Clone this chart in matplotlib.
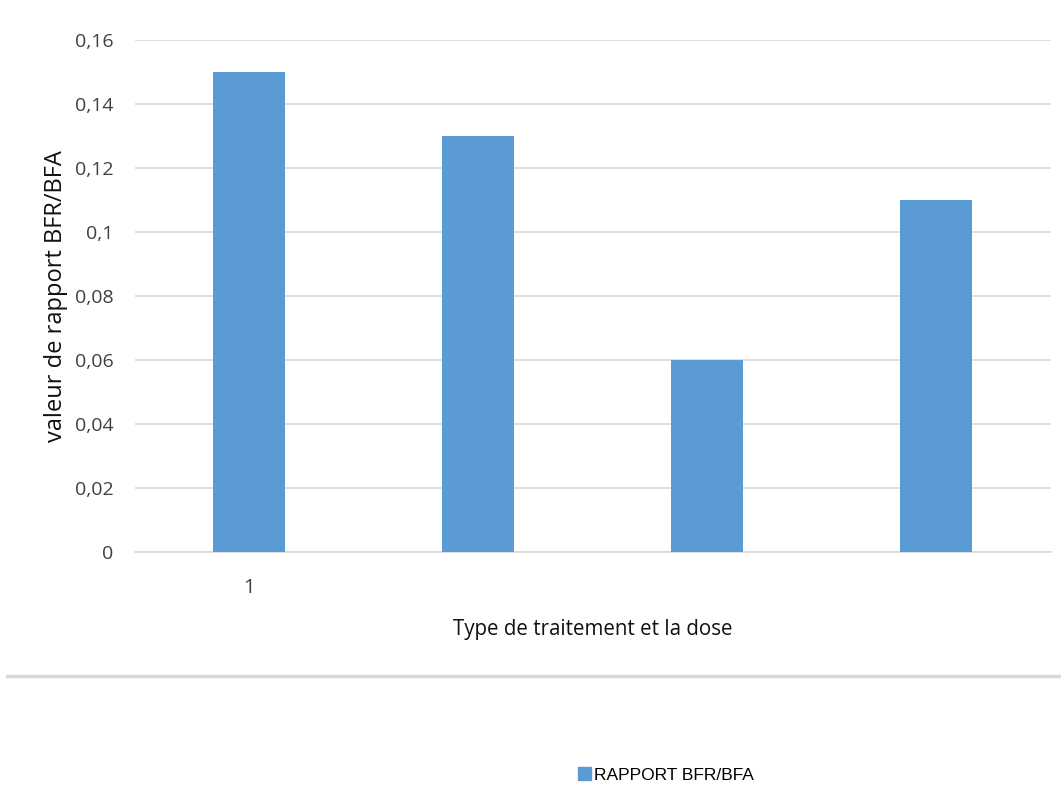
import matplotlib.pyplot as plt
import numpy as np
from matplotlib.lines import Line2D
from matplotlib.patches import Patch

# rapport BFR/BFA par traitement
traitements = ["1", "", "", ""]
rapport = [0.15, 0.13, 0.06, 0.11]
yticks = [0, 0.02, 0.04, 0.06, 0.08, 0.10, 0.12, 0.14, 0.16]
ytick_labels = ["0", "0,02", "0,04", "0,06", "0,08", "0,1", "0,12", "0,14", "0,16"]

bleu = "#5b9bd5"
grille = "#d9d9d9"

plt.rcParams['font.family'] = ['Open Sans', 'DejaVu Sans']

fig = plt.figure(figsize=(10.61, 7.85), dpi=100)
ax = fig.add_axes([134.5 / 1061, 1 - 552 / 785, 916 / 1061, 512 / 785])

x = np.arange(len(rapport))
ax.bar(x, rapport, width=0.315, color=bleu, zorder=3)

ax.set_xlim(-0.5, len(rapport) - 0.5)
ax.set_ylim(0, 0.16)
ax.set_yticks(yticks)
ax.set_yticklabels(ytick_labels, fontsize=14, color="#404040")
ax.set_xticks(x)
ax.set_xticklabels(traitements, fontsize=14.5, color="#404040")
ax.tick_params(axis='both', length=0)
ax.tick_params(axis='y', pad=15)
ax.tick_params(axis='x', pad=19)

ax.grid(True, axis='y', color=grille, linewidth=1.2, zorder=0)
for s in ['top', 'right', 'left']:
  ax.spines[s].set_visible(False)
ax.spines['bottom'].set_color(grille)
ax.spines['bottom'].set_linewidth(1.2)

ax.set_ylabel("valeur de rapport BFR/BFA", fontsize=17, labelpad=5, color="#111111")
ax.set_xlabel("Type de traitement et la dose", fontsize=14.8, labelpad=15, color="#111111")

# trait de séparation sous le graphique
fig.add_artist(Line2D([7 / 1061, 1], [1 - 676 / 785] * 2, color="#d9d9d9", linewidth=2.5))

handle = Patch(color=bleu, label="RAPPORT BFR/BFA")
fig.legend(handles=[handle], loc='center', bbox_to_anchor=(666 / 1061, 1 - 775 / 785),
           frameon=False, handlelength=0.75, handleheight=0.75,
           handletextpad=0.15, prop={'family': 'Liberation Sans', 'size': 12.5})

fig.savefig("out.png", dpi=100)
plt.close()
